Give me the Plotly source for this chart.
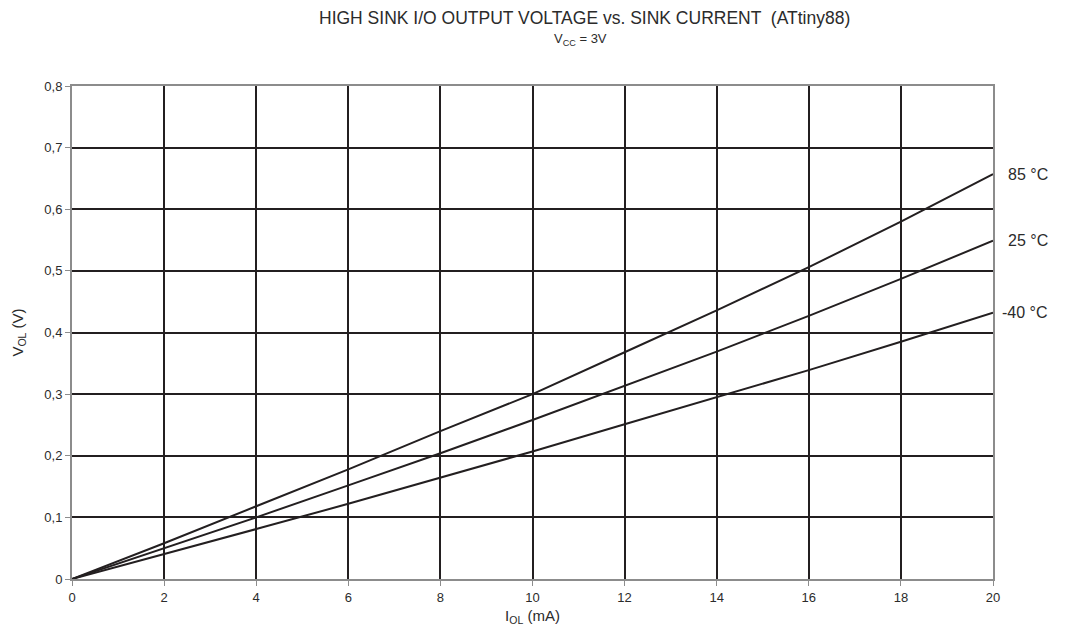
import plotly.graph_objects as go

current_ma = [0, 2, 4, 6, 8, 10, 12, 14, 16, 18, 20]
v_85 = [0, 0.058, 0.118, 0.178, 0.240, 0.300, 0.368, 0.436, 0.506, 0.580, 0.657]
v_25 = [0, 0.050, 0.100, 0.152, 0.204, 0.258, 0.313, 0.369, 0.427, 0.487, 0.549]
v_m40 = [0, 0.040, 0.081, 0.122, 0.164, 0.207, 0.251, 0.295, 0.339, 0.385, 0.432]
series_names = ["85 °C", "25 °C", "-40 °C"]
series_values = [v_85, v_25, v_m40]

FONT = "Liberation Sans, Arial, sans-serif"
LINE = "#231f20"
TXT = "#2b2b2b"

fig = go.Figure()
for name, vals in zip(series_names, series_values):
    fig.add_trace(go.Scatter(x=current_ma, y=vals, mode="lines", name=name,
                             line=dict(color=LINE, width=2), showlegend=False))
    fig.add_annotation(x=current_ma[-1], y=vals[-1], xref="x", yref="y",
                       text=name, showarrow=False, xanchor="right", yanchor="middle",
                       xshift=57, font=dict(size=16, color=TXT, family=FONT))

fig.add_annotation(x=(584 - 72) / 921, y=1 + (86 - 18) / 493, xref="paper", yref="paper",
                   text="HIGH SINK I/O OUTPUT VOLTAGE vs. SINK CURRENT  (ATtiny88)",
                   showarrow=False, xanchor="center", yanchor="middle",
                   font=dict(size=17.5, color=TXT, family=FONT))
fig.add_annotation(x=(580 - 72) / 921, y=1 + (86 - 39) / 493, xref="paper", yref="paper",
                   text="V<sub>CC</sub> = 3V",
                   showarrow=False, xanchor="center", yanchor="middle",
                   font=dict(size=13, color=TXT, family=FONT))

# page has an 8px body margin, so the figure is drawn 8px smaller and offset
fig.update_layout(
    width=1050, height=618,
    margin=dict(l=64, r=65, t=78, b=47),
    paper_bgcolor="white", plot_bgcolor="white",
    separators=", ",
    font=dict(family=FONT, size=13, color=TXT),
    xaxis=dict(range=[0, 20], dtick=2, tick0=0, showgrid=True, gridcolor=LINE, gridwidth=2,
               zeroline=False, showline=True, linecolor="#8c8c8c", linewidth=2, mirror=True,
               ticks="outside", ticklen=5, tickcolor="#8c8c8c", tickwidth=1, automargin=False,
               title=dict(text="I<sub>OL</sub> (mA)", font=dict(size=15, color=TXT), standoff=13),
               tickfont=dict(size=13, color=TXT)),
    yaxis=dict(range=[0, 0.8], dtick=0.1, tick0=0, showgrid=True, gridcolor=LINE, gridwidth=2,
               zeroline=False, showline=True, linecolor="#8c8c8c", linewidth=2, mirror=True,
               ticks="outside", ticklen=5, tickcolor="#8c8c8c", tickwidth=1, automargin=False,
               title=dict(text="V<sub>OL</sub> (V)", font=dict(size=15, color=TXT), standoff=17),
               tickfont=dict(size=13, color=TXT)),
)
fig.write_html("out.html")
